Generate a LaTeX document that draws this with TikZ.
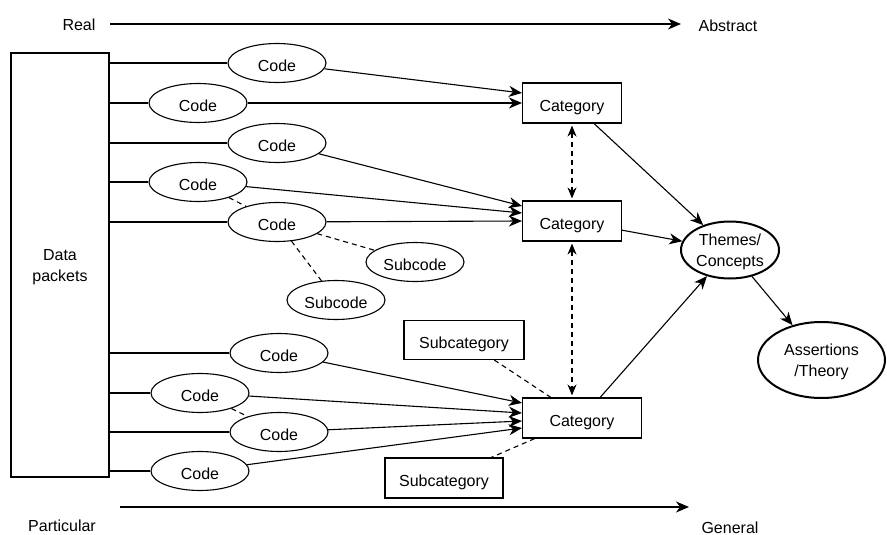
\documentclass[tikz,border=0pt]{standalone}
\usepackage{fontspec}
\setmainfont{Liberation Sans}
\usetikzlibrary{shapes.geometric,arrows.meta}

\begin{document}
\begin{tikzpicture}[x=1pt,y=-1pt,
  font=\fontsize{16}{21}\selectfont,
  line width=1.1pt,
  code/.style={draw, ellipse, minimum width=98pt, minimum height=39pt, inner sep=0pt,
               text height=17.5pt, text depth=0pt},
  catbox/.style={draw, rectangle, minimum width=99pt, minimum height=40pt, inner sep=0pt,
                 text height=17pt, text depth=0pt},
  bigell/.style={draw, ellipse, line width=2pt, align=center, inner sep=0pt},
  axislabel/.style={inner sep=0pt},
  arr/.style={-{Stealth[length=13pt,width=11pt,inset=4pt]}},
  dblarr/.style={{Stealth[length=11pt,width=9pt,inset=3.5pt]}-{Stealth[length=11pt,width=9pt,inset=3.5pt]},
                 dash pattern=on 5pt off 4pt, shorten <=2pt, shorten >=2pt},
  dashlink/.style={dash pattern=on 5pt off 4pt},
]
\useasboundingbox (0,0) rectangle (887,535);

% axis labels
\node[axislabel] (real) at (79,25) {Real};
\node[axislabel] (abstract) at (728,26) {Abstract};
\node[axislabel] (particular) at (62,526) {Particular};
\node[axislabel] (general) at (730,528) {General};
\coordinate (topA) at (110,24);
\coordinate (topB) at (681,24);
\coordinate (botA) at (120,507);
\coordinate (botB) at (689,507);
\draw[arr] (topA) -- (topB);
\draw[arr] (botA) -- (botB);

% raw material
\node[draw, minimum width=98pt, minimum height=424pt, inner sep=0pt, align=center,
      text depth=-6pt] (dp) at (60,265) {Data\\packets};

% codes and subcodes
\node[code] (c1) at (277,63) {Code};
\node[code] (c2) at (198,103) {Code};
\node[code] (c3) at (277,143) {Code};
\node[code] (c4) at (198,182) {Code};
\node[code] (c5) at (277,222) {Code};
\node[code] (s1) at (415,262) {Subcode};
\node[code] (s2) at (336,300) {Subcode};
\node[code] (c6) at (279,353) {Code};
\node[code] (c7) at (200,393) {Code};
\node[code] (c8) at (279,432) {Code};
\node[code] (c9) at (200,471) {Code};

% categories
\node[catbox] (k1) at (572,103) {Category};
\node[catbox] (k2) at (572,221) {Category};
\node[catbox, minimum width=119pt] (k3) at (582,418) {Category};
\node[catbox, minimum width=120pt, minimum height=39pt] (g1) at (464,340) {Subcategory};
\node[catbox, minimum width=118pt] (g2) at (444,478) {Subcategory};

% themes and theory
\node[bigell, minimum width=98pt, minimum height=57pt, text depth=-5pt] (th) at (730,250) {Themes/\\Concepts};
\node[bigell, minimum width=127pt, minimum height=76pt, text depth=-7pt] (as) at (821.5,360) {Assertions\\/Theory};

% data packets to codes
\foreach \c in {c1,c2,c3,c4,c5,c6,c7,c8,c9}
  \draw (dp.east |- \c) -- (\c);

% codes to categories
\draw[arr] (c1) -- ([yshift=10pt]k1.west);
\draw[arr] (c2) -- (k1.west);
\draw[arr] (c3) -- ([yshift=15pt]k2.west);
\draw[arr] (c4) -- ([yshift=8pt]k2.west);
\draw[arr] (c5) -- (k2.west);
\draw[arr] (c6) -- ([yshift=15pt]k3.west);
\draw[arr] (c7) -- ([yshift=5pt]k3.west);
\draw[arr] (c8) -- ([yshift=-3pt]k3.west);
\draw[arr] (c9) -- ([yshift=-10pt]k3.west);

% dashed relations
\draw[dashlink] (c4) -- (c5);
\draw[dashlink] (c5) -- (s1);
\draw[dashlink] (c5) -- (s2);
\draw[dashlink] (c7) -- (c8);
\draw[dashlink] (g1) -- (k3);
\draw[dashlink] (k3) -- (g2);
\draw[dblarr] (k1) -- (k2);
\draw[dblarr] (k2) -- (k3.north -| k2);

% categories to themes to theory
\draw[arr] (k1) -- (th);
\draw[arr] (k2) -- (th);
\draw[arr] (k3) -- (th);
\draw[arr] (th) -- (as);
\end{tikzpicture}
\end{document}
